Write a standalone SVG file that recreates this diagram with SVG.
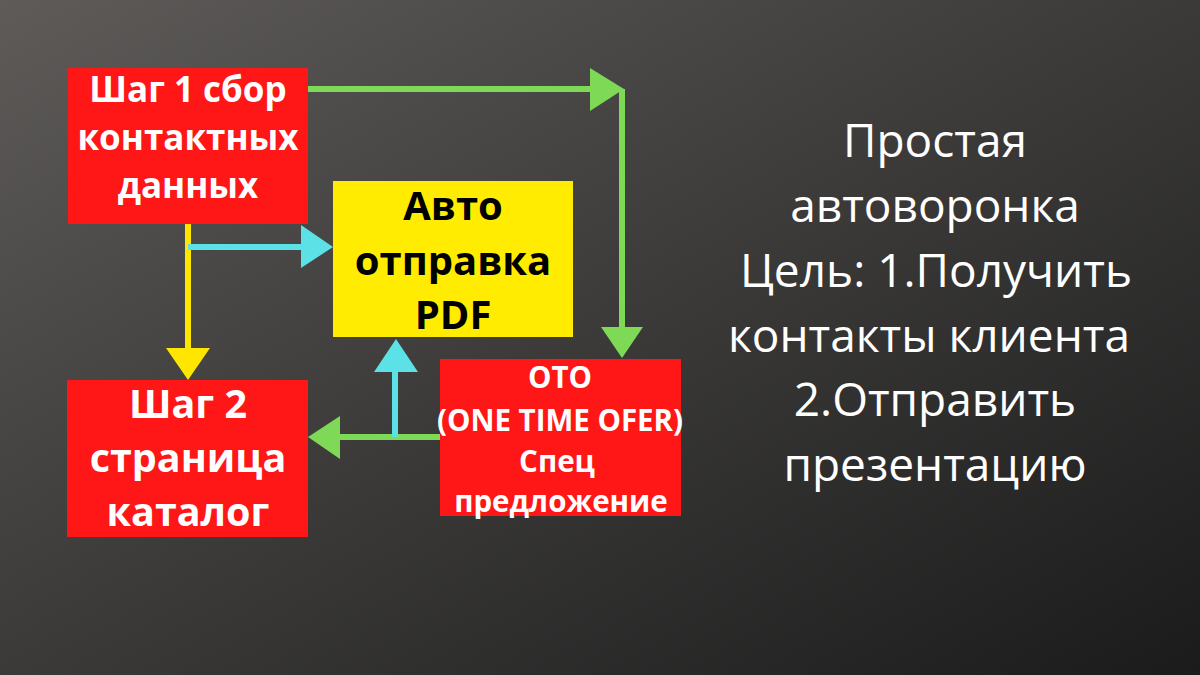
<svg xmlns="http://www.w3.org/2000/svg" width="1200" height="675" viewBox="0 0 1200 675">
<defs>
<linearGradient id="bg" x1="0" y1="0" x2="1" y2="1">
<stop offset="0" stop-color="#5e5b59"/>
<stop offset="0.5" stop-color="#3b3a39"/>
<stop offset="1" stop-color="#1b1b1b"/>
</linearGradient>
<style>
.red{fill:#ff1616}
.yel{fill:#ffec00}
.bt{font-family:"Open Sans","Noto Sans","DejaVu Sans",sans-serif;font-weight:bold;text-anchor:middle}
.w{fill:#ffffff}
.k{fill:#000000}
.rt{font-family:"Open Sans","Noto Sans","DejaVu Sans",sans-serif;font-size:46px;fill:#ffffff;text-anchor:middle}
.g{stroke:#7ed957;stroke-width:6;fill:none}
.c{stroke:#5ce1e6;stroke-width:6;fill:none}
.y{stroke:#ffe600;stroke-width:6;fill:none}
</style>
</defs>
<rect x="0" y="0" width="1200" height="675" fill="url(#bg)"/>
<g id="connectors">
<path class="g" d="M307 89 H593 M622 89 V330"/>
<polygon fill="#7ed957" points="590,68 624,89 590,111"/>
<polygon fill="#7ed957" points="601,327 643,327 622,358"/>
<path class="g" d="M440 437 H338"/>
<polygon fill="#7ed957" points="340,416 340,459 308,437"/>
<path class="y" d="M188 224 V350"/>
<polygon fill="#ffe600" points="166,348 210,348 188,380"/>
<path class="c" d="M188 247 H303"/>
<polygon fill="#5ce1e6" points="301,225 333,247 301,268"/>
<path class="c" d="M395 437 V370"/>
<polygon fill="#5ce1e6" points="374,372 418,372 396,339"/>
</g>
<g id="node-step1">
<rect class="red" x="68" y="68" width="240" height="156"/>
<text class="bt w" font-size="35" x="188" y="102">Шаг 1 сбор</text>
<text class="bt w" font-size="35" x="188" y="150">контактных</text>
<text class="bt w" font-size="35" x="188" y="198">данных</text>
</g>
<g id="node-pdf">
<rect class="yel" x="333" y="181" width="240" height="156"/>
<text class="bt k" font-size="40" x="453" y="220">Авто</text>
<text class="bt k" font-size="40" x="453" y="275">отправка</text>
<text class="bt k" font-size="40" x="453" y="329">PDF</text>
</g>
<g id="node-step2">
<rect class="red" x="67" y="380" width="241" height="157"/>
<text class="bt w" font-size="39.5" x="188" y="418">Шаг 2</text>
<text class="bt w" font-size="39.5" x="188" y="472">страница</text>
<text class="bt w" font-size="39.5" x="188" y="526">каталог</text>
</g>
<g id="node-oto">
<rect class="red" x="440" y="359" width="241" height="157"/>
<text class="bt w" font-size="29.5" x="560" y="388">ОТО</text>
<text class="bt w" font-size="29.5" x="560" y="431">(ONE TIME OFER)</text>
<text class="bt w" font-size="29.5" x="557" y="472">Спец</text>
<text class="bt w" font-size="29.5" x="561" y="512">предложение</text>
</g>
<g id="caption">
<text class="rt" x="935" y="157">Простая</text>
<text class="rt" x="935" y="222">автоворонка</text>
<text class="rt" x="936" y="287">Цель: 1.Получить</text>
<text class="rt" x="929" y="352">контакты клиента</text>
<text class="rt" x="935" y="416">2.Отправить</text>
<text class="rt" x="935" y="481">презентацию</text>
</g>
</svg>
